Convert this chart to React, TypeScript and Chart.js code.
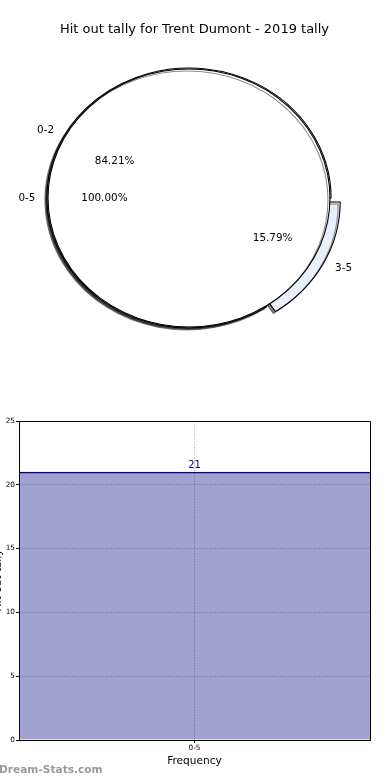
import React, { useEffect, useRef } from "react";
import { Chart, registerables } from "chart.js";

Chart.register(...registerables);

// ---------- data ----------
const PIE_TITLE = "Hit out tally for Trent Dumont - 2019 tally";
const outerCategories = ["0-2", "3-5"];
const outerValues = [16, 3];
const outerColors = ["#ffffff", "#e9effb"];
const outerExplode = [0, 32];
const innerCategories = ["0-5"];
const innerValues = [19];
const innerColors = ["#ffffff"];

const barCategories = ["0-5"];
const barValues = [21];
const yTickValues = [0, 5, 10, 15, 20, 25];
const X_TITLE = "Frequency";
const Y_TITLE = "Hit out tally";
const WATERMARK = "Dream-Stats.com";

// ---------- style ----------
const FONT = '"DejaVu Sans", sans-serif';
const RY_OUTER = 130;
const RY_INNER = 129;
const SX = 141 / 129; // horizontal stretch -> ellipse

function pctText(v: number, total: number) {
  return ((v / total) * 100).toFixed(2) + "%";
}

const ellipsePlugin = {
  id: "ellipse",
  beforeDatasetsDraw(chart: any) {
    const ctx = chart.ctx;
    const a = chart.chartArea;
    const cx = (a.left + a.right) / 2;
    ctx.save();
    ctx.translate(cx, 0);
    ctx.scale(SX, 1);
    ctx.translate(-cx, 0);
    ctx.shadowColor = "rgba(0,0,0,0.45)";
    ctx.shadowOffsetX = -2;
    ctx.shadowOffsetY = 2;
    ctx.shadowBlur = 0;
  },
  afterDatasetsDraw(chart: any) {
    chart.ctx.restore();
  },
};

function drawPieLabels(
  ctx: CanvasRenderingContext2D,
  cx: number,
  cy: number,
  labels: string[],
  values: number[],
  explode: number[]
) {
  // same order as the pie: clockwise from 3 o'clock, reversed category order
  const total = values.reduce((s, v) => s + v, 0);
  const idx = values.map((_, i) => i).reverse();
  let ang = 0;
  ctx.fillStyle = "#000";
  ctx.font = "10.4px " + FONT;
  ctx.textBaseline = "middle";
  for (const i of idx) {
    const sweep = (values[i] / total) * Math.PI * 2;
    const mid = ang + sweep / 2;
    ang += sweep;
    const c = Math.cos(mid);
    const s = Math.sin(mid);
    const shift = (explode[i] || 0) / 4;
    const ox = cx + c * shift * SX;
    const oy = cy + s * shift;
    const r = RY_INNER;
    const lx = ox + c * r * 1.1 * SX;
    const ly = oy + s * r * 1.1;
    ctx.textAlign = c > 0 ? "left" : "right";
    ctx.fillText(labels[i], lx + (c > 0 ? 2 : 1.5), ly - (c > 0 ? 1 : 0));
    const px = ox + c * r * 0.6 * SX;
    const py = oy + s * r * 0.6;
    ctx.textAlign = "center";
    ctx.fillText(pctText(values[i], total), px + (c > 0 ? 1.5 : 0), py);
  }
}

const pieTextPlugin = {
  id: "pieText",
  afterDraw(chart: any) {
    const ctx = chart.ctx;
    const a = chart.chartArea;
    const cx = (a.left + a.right) / 2;
    const cy = (a.top + a.bottom) / 2;
    ctx.save();
    ctx.fillStyle = "#000";
    ctx.font = "13px " + FONT;
    ctx.textAlign = "center";
    ctx.textBaseline = "middle";
    ctx.fillText(PIE_TITLE, 194.5, 30);
    drawPieLabels(ctx, cx, cy, outerCategories, outerValues, outerExplode);
    drawPieLabels(ctx, cx, cy, innerCategories, innerValues, [0]);
    ctx.restore();
  },
};

const barExtrasPlugin = {
  id: "barExtras",
  afterDatasetsDraw(chart: any) {
    const ctx = chart.ctx;
    const meta = chart.getDatasetMeta(0);
    ctx.save();
    ctx.fillStyle = "#000080";
    ctx.font = "10px " + FONT;
    ctx.textAlign = "center";
    ctx.textBaseline = "alphabetic";
    meta.data.forEach((el: any, i: number) => {
      ctx.fillText(String(barValues[i]), el.x, el.y - 4);
    });
    ctx.restore();
  },
  afterDraw(chart: any) {
    const ctx = chart.ctx;
    const a = chart.chartArea;
    ctx.save();
    // frame (top/right spines)
    ctx.strokeStyle = "#000";
    ctx.lineWidth = 1;
    ctx.beginPath();
    ctx.moveTo(a.left, a.top + 0.5);
    ctx.lineTo(a.right + 0.5, a.top + 0.5);
    ctx.lineTo(a.right + 0.5, a.bottom);
    ctx.stroke();
    // y title (mostly outside the figure)
    ctx.fillStyle = "#000";
    ctx.font = "10.6px " + FONT;
    ctx.translate(0.5, (a.top + a.bottom) / 2);
    ctx.rotate(-Math.PI / 2);
    ctx.textAlign = "center";
    ctx.textBaseline = "alphabetic";
    ctx.fillText(Y_TITLE, 0, 0);
    ctx.restore();
    // watermark
    ctx.save();
    ctx.fillStyle = "#9a9a9a";
    ctx.font = "bold 10.6px " + FONT;
    ctx.textAlign = "left";
    ctx.textBaseline = "middle";
    ctx.fillText(WATERMARK, -1, 370);
    ctx.restore();
  },
};

export default function App() {
  const backRef = useRef<HTMLCanvasElement>(null);
  const frontRef = useRef<HTMLCanvasElement>(null);
  const barRef = useRef<HTMLCanvasElement>(null);

  useEffect(() => {
    const pieLayout = { padding: { left: 0, right: 12, top: 26, bottom: 0 } };
    const back = new Chart(backRef.current!, {
      type: "pie",
      data: {
        labels: outerCategories.slice().reverse(),
        datasets: [
          {
            data: outerValues.slice().reverse(),
            backgroundColor: outerColors.slice().reverse(),
            offset: outerExplode.slice().reverse(),
            borderColor: "#000",
            borderWidth: 1,
          },
        ],
      },
      options: {
        responsive: false,
        animation: false,
        events: [],
        rotation: 90,
        radius: RY_OUTER,
        layout: pieLayout,
        plugins: { legend: { display: false }, tooltip: { enabled: false }, title: { display: false } },
      } as any,
      plugins: [ellipsePlugin],
    });

    // the full 0-5 wedge: dash pattern keeps only the rim, hiding the radial edges
    const rim = 2 * Math.PI * RY_INNER;
    const front = new Chart(frontRef.current!, {
      type: "pie",
      data: {
        labels: innerCategories,
        datasets: [
          {
            data: innerValues,
            backgroundColor: innerColors,
            borderColor: "#000",
            borderWidth: 1,
            borderDash: [rim + 0.5, RY_INNER * 3],
          } as any,
        ],
      },
      options: {
        responsive: false,
        animation: false,
        events: [],
        rotation: 90,
        radius: RY_INNER,
        layout: pieLayout,
        plugins: { legend: { display: false }, tooltip: { enabled: false }, title: { display: false } },
      } as any,
      plugins: [ellipsePlugin, pieTextPlugin],
    });

    const gridCommon = {
      color: "#b0b0b0",
      lineWidth: 1,
      drawTicks: true,
      tickLength: 3,
      tickColor: "#000",
      tickBorderDash: [],
    };

    const bar = new Chart(barRef.current!, {
      type: "bar",
      data: {
        labels: barCategories,
        datasets: [
          {
            data: barValues,
            backgroundColor: "rgba(0,0,128,0.365)",
            borderColor: "#000080",
            borderWidth: { top: 1, left: 0, right: 0, bottom: 0 },
            borderSkipped: false,
            barPercentage: 1,
            categoryPercentage: 1,
          },
        ],
      },
      options: {
        responsive: false,
        animation: false,
        events: [],
        layout: { padding: { left: 0, right: 20, top: 21, bottom: 0 } },
        plugins: { legend: { display: false }, tooltip: { enabled: false }, title: { display: false } },
        scales: {
          x: {
            offset: true,
            grid: { ...gridCommon, offset: false } as any,
            border: { color: "#000", width: 1, dash: [1, 1.6] },
            ticks: { color: "#000", font: { family: FONT, size: 7.3 }, padding: 1, maxRotation: 0 },
            title: {
              display: true,
              text: X_TITLE,
              color: "#000",
              font: { family: FONT, size: 10.6 },
              padding: { top: 0, bottom: 12 },
            },
            afterFit(scale: any) {
              scale.height = 40;
            },
          },
          y: {
            min: 0,
            max: 25,
            afterBuildTicks(scale: any) {
              scale.ticks = yTickValues.map((v) => ({ value: v }));
            },
            grid: gridCommon as any,
            border: { color: "#000", width: 1, dash: [1, 1.6] },
            ticks: { color: "#000", font: { family: FONT, size: 7.3 }, padding: 1 },
            afterFit(scale: any) {
              scale.width = 19;
            },
          },
        },
      } as any,
      plugins: [barExtrasPlugin],
    });

    return () => {
      back.destroy();
      front.destroy();
      bar.destroy();
    };
  }, []);

  return (
    <div style={{ position: "absolute", left: 0, top: 0, width: 390, height: 780, background: "#fff", overflow: "hidden" }}>
      <canvas ref={backRef} width={390} height={370} style={{ position: "absolute", left: 0, top: 0, width: 390, height: 370 }} />
      <canvas ref={frontRef} width={390} height={370} style={{ position: "absolute", left: 0, top: 0, width: 390, height: 370 }} />
      <canvas ref={barRef} width={390} height={380} style={{ position: "absolute", left: 0, top: 400, width: 390, height: 380 }} />
    </div>
  );
}
